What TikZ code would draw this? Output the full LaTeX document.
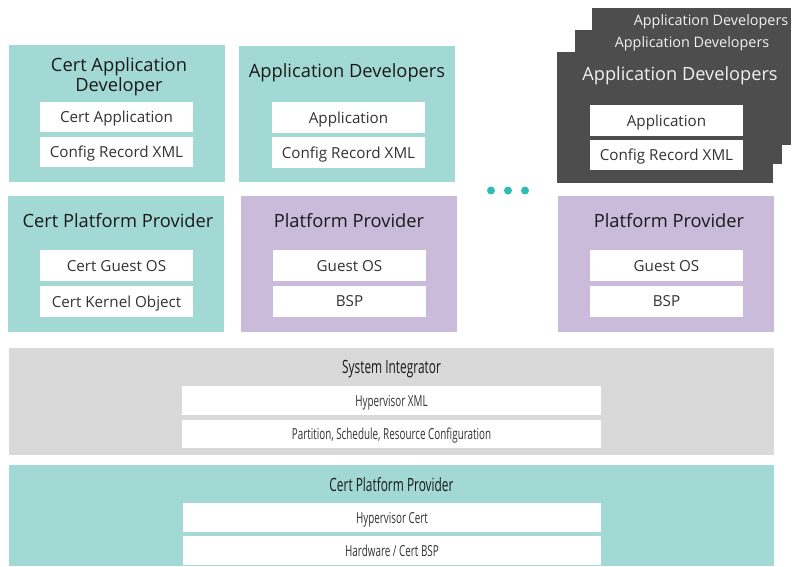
\documentclass[tikz,border=0pt]{standalone}
\usepackage{fontspec}
\setmainfont{Open Sans}
\usepackage{graphicx}
\definecolor{tealbg}{HTML}{A3D9D4}
\definecolor{lavbg}{HTML}{CBBBDB}
\definecolor{greybg}{HTML}{D9D9D9}
\definecolor{darkbg}{HTML}{4D4D4D}
\definecolor{dotc}{HTML}{2EBDB5}
\definecolor{itemtxt}{HTML}{333333}
\definecolor{titletxt}{HTML}{1A1A1A}
\newcommand\sqz[1]{\scalebox{0.65}[1]{#1}}
\tikzset{
  panel/.style={draw=none, inner sep=0pt, outer sep=0pt},
  item/.style={fill=white, draw=none, inner sep=0pt, outer sep=0pt, text=itemtxt, text depth=0pt, font=\fontsize{15.2}{17}\selectfont},
  ttl/.style={inner sep=0pt, text=titletxt, align=center, text depth=0pt, font=\fontsize{18.3}{19.5}\selectfont},
  dttl/.style={inner sep=0pt, text=white!94!black, text depth=0pt, font=\fontsize{18.2}{20}\selectfont},
  sttl/.style={inner sep=0pt, text=white!94!black, text depth=0pt, font=\fontsize{14.4}{16}\selectfont},
  dotn/.style={circle, fill=dotc, inner sep=0pt, minimum size=8pt}
}
\begin{document}
\begin{tikzpicture}[x=1pt,y=-1pt]
\useasboundingbox (0,0) rectangle (796,566);
% top-left
\node[panel, fill=tealbg, minimum width=216pt, minimum height=137pt] (p1) at (117,113.5) {};
\node[ttl] (t1) at (119,74.5) {Cert Application\\Developer};
\node[item, minimum width=153pt, minimum height=30pt] (i11) at (116.5,117) {Cert Application};
\node[item, minimum width=153pt, minimum height=30pt] (i12) at (116.5,152) {Config Record XML};
% top-middle
\node[panel, fill=tealbg, minimum width=216pt, minimum height=136pt] (p2) at (347,114) {};
\node[ttl] (t2) at (347,71) {Application Developers};
\node[item, minimum width=153pt, minimum height=31pt] (i21) at (348.5,117.5) {Application};
\node[item, minimum width=153pt, minimum height=31pt] (i22) at (348.5,152.5) {Config Record XML};
% dark stack
\node[panel, fill=darkbg, minimum width=199pt, minimum height=137pt] (d3) at (691.5,76.5) {};
\node[panel, fill=darkbg, minimum width=207pt, minimum height=134pt] (d2) at (678.5,97) {};
\node[panel, fill=darkbg, minimum width=216pt, minimum height=131pt] (d1) at (665,117.5) {};
\node[sttl] (dt3) at (711,20) {Application Developers};
\node[sttl] (dt2) at (692,42) {Application Developers};
\node[dttl] (dt1) at (680,74) {Application Developers};
\node[item, minimum width=153pt, minimum height=31pt] (d11) at (666.5,120.5) {Application};
\node[item, minimum width=153pt, minimum height=30pt] (d12) at (666.5,155) {Config Record XML};
% dots
\node[dotn] (dot1) at (491,190.5) {};
\node[dotn] (dot2) at (508,190.5) {};
\node[dotn] (dot3) at (525,190.5) {};
% platform row
\node[panel, fill=tealbg, minimum width=216pt, minimum height=136pt] (q1) at (116,264) {};
\node[ttl] (u1) at (118,220) {Cert Platform Provider};
\node[item, minimum width=153pt, minimum height=31pt] (j11) at (116.5,265.5) {Cert Guest OS};
\node[item, minimum width=153pt, minimum height=31pt] (j12) at (116.5,301.5) {Cert Kernel Object};
\node[panel, fill=lavbg, minimum width=216pt, minimum height=136pt] (q2) at (349,264) {};
\node[ttl] (u2) at (349,220) {Platform Provider};
\node[item, minimum width=153pt, minimum height=31pt] (j21) at (349.5,265.5) {Guest OS};
\node[item, minimum width=153pt, minimum height=31pt] (j22) at (349.5,301) {BSP};
\node[panel, fill=lavbg, minimum width=216pt, minimum height=136pt] (q3) at (666,264) {};
\node[ttl] (u3) at (669,220) {Platform Provider};
\node[item, minimum width=153pt, minimum height=31pt] (j31) at (666.5,265.5) {Guest OS};
\node[item, minimum width=153pt, minimum height=31pt] (j32) at (666.5,301) {BSP};
% system integrator
\node[panel, fill=greybg, minimum width=765pt, minimum height=107pt] (si) at (391.5,401.5) {};
\node[ttl] (sit) at (391.5,367) {\sqz{System Integrator}};
\node[item, minimum width=419pt, minimum height=29pt] (si1) at (391.5,400.5) {\sqz{Hypervisor XML}};
\node[item, minimum width=419pt, minimum height=28pt] (si2) at (391.5,434) {\sqz{Partition, Schedule, Resource Configuration}};
% bottom cert platform provider
\node[panel, fill=tealbg, minimum width=765pt, minimum height=101pt] (cp) at (391.5,515.5) {};
\node[ttl] (cpt) at (391.5,484) {\sqz{Cert Platform Provider}};
\node[item, minimum width=418pt, minimum height=29pt] (cp1) at (392,517.5) {\sqz{Hypervisor Cert}};
\node[item, minimum width=418pt, minimum height=29pt] (cp2) at (392,550.5) {\sqz{Hardware / Cert BSP}};
\end{tikzpicture}
\end{document}
